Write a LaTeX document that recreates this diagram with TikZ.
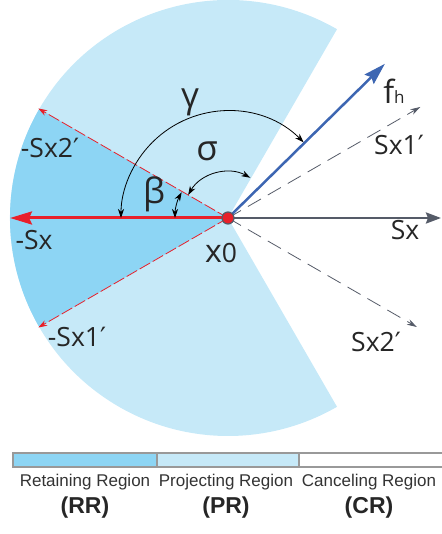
\documentclass[tikz,border=0pt]{standalone}
\usepackage{fontspec}
\setmainfont{Liberation Sans}
\newfontfamily\labfont{Open Sans}
\newfontfamily\primefont{DejaVu Sans}
\usetikzlibrary{arrows.meta}
\definecolor{lightreg}{HTML}{C6E9F8}
\definecolor{darkreg}{HTML}{8DD5F4}
\definecolor{redv}{HTML}{E8202A}
\definecolor{grayv}{HTML}{555B68}
\definecolor{bluev}{HTML}{3D66B2}
\definecolor{legborder}{HTML}{999999}
\newcommand{\pr}{{\primefont ′}}
\begin{document}
\begin{tikzpicture}[x=1pt,y=1pt,
  lab/.style={font=\labfont\fontsize{26.5}{26}\selectfont, inner sep=0pt, text=black!85},
  greek/.style={font=\labfont\fontsize{35}{35}\selectfont, inner sep=0pt, text=black!85},
  legtext/.style={font=\fontsize{17}{18}\selectfont, inner sep=0pt, text=black!80},
  legabbr/.style={font=\bfseries\fontsize{23}{24}\selectfont, inner sep=0pt, text=black!85},
  legbox/.style={draw=legborder, line width=1.2pt},
  bigred/.style={draw=redv, line width=3pt, -{Stealth[length=22pt,width=13pt,inset=3pt]}},
  dashred/.style={draw=redv, line width=0.8pt, dash pattern=on 12pt off 3pt, -{Stealth[length=9pt,width=6pt]}},
  dashgray/.style={draw=grayv, line width=0.8pt, dash pattern=on 15pt off 8pt, -{Stealth[length=10pt,width=6pt]}},
  arcarrow/.style={draw=black, line width=0.8pt, {Stealth[length=9pt,width=6pt]}-{Stealth[length=9pt,width=6pt]}}
]
\useasboundingbox (-228,-316) rectangle (213,218);
\coordinate (O) at (0,0);
% regions
\fill[lightreg] (O) -- (60:218) arc[start angle=60,end angle=300,radius=218] -- cycle;
\fill[darkreg] (O) -- (150:218) arc[start angle=150,end angle=210,radius=218] -- cycle;
% end points
\coordinate (nsx) at (180:218);
\coordinate (nsx2) at (150:219);
\coordinate (nsx1) at (210:219);
\coordinate (sx) at (213,0);
\coordinate (sx1) at (30:222);
\coordinate (sx2) at (-30:218);
\coordinate (fh) at (44.5:220);
% vectors
\draw[dashgray] (O) -- (sx1);
\draw[dashgray] (O) -- (sx2);
\draw[dashred] (O) -- (nsx2);
\draw[dashred] (O) -- (nsx1);
\draw[bigred] (O) -- (nsx);
\draw[draw=grayv, line width=2.5pt, -{Stealth[length=15pt,width=11pt,inset=2pt]}] (O) -- (sx);
\draw[draw=bluev, line width=2.5pt, -{Stealth[length=22pt,width=13pt,inset=3pt]}] (O) -- (fh);
% angle arcs
\draw[arcarrow] (45:107) arc[start angle=45,end angle=180,radius=107];
\draw[arcarrow] (61:46) arc[start angle=61,end angle=150,radius=46];
\draw[arcarrow] (151:53) arc[start angle=151,end angle=180,radius=53];
% origin
\node[circle, fill=redv, draw=grayv, line width=1.2pt, minimum size=12pt, inner sep=0pt] (x0) at (O) {};
% labels
\node[greek] (gamma) at (-38,116) {γ};
\node[greek] (sigma) at (-21,67) {σ};
\node[greek] (beta) at (-74,24) {β};
\node[lab, anchor=base] (lfh) at (166,114) {{\fontsize{32}{32}\selectfont f}{\fontsize{17}{17}\selectfont h}};
\node[lab] (lsx1) at (171,73) {Sx1\pr};
\node[lab] (lsx) at (177,-12) {Sx};
\node[lab] (lnsx) at (-194,-22) {-Sx};
\node[lab] (lx0) at (-7,-35) {{\fontsize{32}{32}\selectfont x}0};
\node[lab] (lnsx2) at (-178,70) {-Sx2\pr};
\node[lab] (lnsx1) at (-151,-119) {-Sx1\pr};
\node[lab] (lsx2) at (148,-124) {Sx2\pr};
% legend
\fill[darkreg] (-215,-249) rectangle (-71,-235);
\fill[lightreg] (-71,-249) rectangle (71,-235);
\draw[legbox] (-215,-249) rectangle (-71,-235);
\draw[legbox] (-71,-249) rectangle (71,-235);
\draw[legbox] (71,-249) rectangle (225,-235);
\node[legtext] (rr) at (-143,-264) {Retaining Region};
\node[legtext] (prg) at (-2,-264) {Projecting Region};
\node[legtext] (cr) at (141,-264) {Canceling Region};
\node[legabbr] (rrb) at (-143,-290) {(RR)};
\node[legabbr] (prb) at (-2,-290) {(PR)};
\node[legabbr] (crb) at (141,-290) {(CR)};
\end{tikzpicture}
\end{document}
